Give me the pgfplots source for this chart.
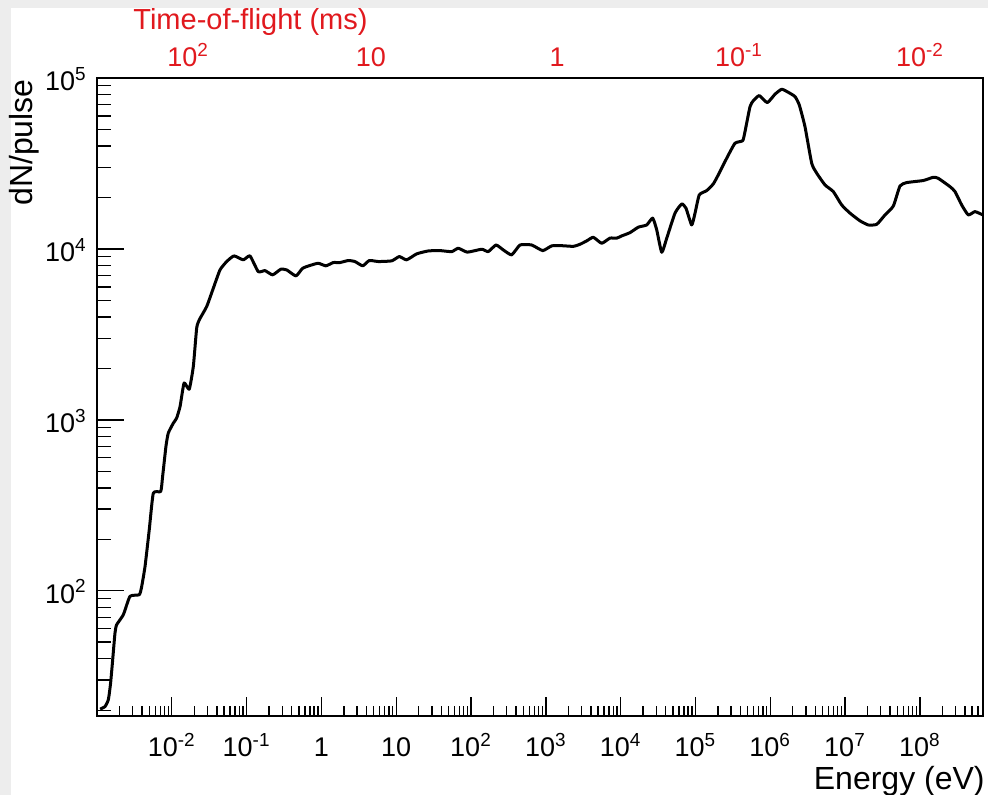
\documentclass[border=0pt]{standalone}
\usepackage{pgfplots}
\pgfplotsset{compat=1.18}
\usepackage{fontspec}
\setmainfont{Liberation Sans}
\definecolor{tofred}{RGB}{225,25,30}
\newcommand{\ex}[1]{10\textsuperscript{#1}}
\newcommand{\tickfont}{\fontsize{13.5}{16}\selectfont}
\newcommand{\titlefont}{\fontsize{16}{19}\selectfont}

% shared geometry of the three stacked axes
\pgfplotsset{
  xmin=1e-3, xmax=7e8, ymin=18.5, ymax=1e5,
  width=443pt, height=319pt, scale only axis,
}

\begin{document}
\begin{tikzpicture}
\path[use as bounding box] (-48.5pt,-39.5pt) rectangle (445.5pt,358pt);
\fill[black!7] (-48.5pt,-39.5pt) rectangle (445.5pt,358pt);
\fill[white] (-43pt,-39.5pt) rectangle (445.5pt,354pt);

% frame, y axis and the spectrum
\begin{loglogaxis}[at={(0,0)}, anchor=south west,
  axis line style={line width=0.9pt},
  xtick=\empty,
  ytick={1e2,1e3,1e4,1e5},
  yticklabels={\ex{2},\ex{3},\ex{4},\ex{5}},
  minor ytick={20,30,40,50,60,70,80,90,
    200,300,400,500,600,700,800,900,
    2000,3000,4000,5000,6000,7000,8000,9000,
    2e4,3e4,4e4,5e4,6e4,7e4,8e4,9e4},
  ytick pos=left, tick align=inside,
  major tick length=13.7pt, minor tick length=7pt,
  tick style={line width=0.7pt, black},
  yticklabel style={font=\tickfont, anchor=base east, inner sep=0pt,
    xshift=-5pt, yshift=-6.35pt},
]
\addplot[black, line width=1.5pt, line join=round, smooth, tension=0.3] coordinates {
(1.10e-3,20.3) (1.28e-3,21.0) (1.42e-3,23.1) (1.52e-3,28.8) (1.62e-3,39.4)
(1.74e-3,56.6) (1.83e-3,63.2) (2.25e-3,72.4) (2.76e-3,92.7) (3.68e-3,94.8)
(3.96e-3,106) (4.39e-3,139) (5.00e-3,228) (5.66e-3,372) (7.11e-3,381)
(7.54e-3,466) (8.35e-3,698) (8.97e-3,836) (1.05e-2,957) (1.16e-2,1023)
(1.29e-2,1197) (1.46e-2,1641) (1.71e-2,1510) (1.94e-2,2051) (2.15e-2,3436)
(2.33e-2,3846) (2.93e-2,4603) (3.59e-2,5888) (4.41e-2,7534) (5.42e-2,8433)
(6.79e-2,9099) (9.03e-2,8630) (0.111,9099) (0.143,7362) (0.176,7464)
(0.223,7047) (0.286,7603) (0.344,7534) (0.457,6950) (0.562,7709)
(0.741,8054) (0.910,8241) (1.15,7962) (1.44,8318) (1.77,8318)
(2.29,8551) (2.81,8433) (3.57,7962) (4.37,8551) (5.77,8433)
(8.71,8511) (11.0,9016) (13.8,8630) (18.8,9354) (26.9,9727)
(38.5,9772) (55.2,9638) (67.6,10090) (89.3,9572) (139,9954)
(170,9638) (216,10540) (270,9863) (350,9226) (452,10540)
(647,10540) (910,9772) (1200,10420) (1633,10440) (2333,10350)
(2864,10640) (3524,11140) (4315,11690) (5585,10790) (7211,11560)
(8872,11560) (10350,11910) (13370,12450) (17260,13400) (22340,13800)
(26850,15140) (30410,12910) (35480,9550) (41400,11560) (53330,16180)
(65610,18320) (74820,17300) (89130,13800) (98850,16180) (112700,20700)
(141600,21930) (173400,23990) (202300,27100) (261800,33880) (338100,41500)
(428500,42950) (460300,48530) (537000,67920) (594300,73620) (714500,78890)
(914100,71780) (1.159e6,80350) (1.425e6,85900) (1.746e6,82410) (2.147e6,77800)
(2.449e6,69500) (2.917e6,51880) (3.589e6,31700) (4.188e6,27730) (5.408e6,23660)
(6.982e6,21630) (9.036e6,18070) (1.167e7,16180) (1.589e7,14590) (2.051e7,13800)
(2.661e7,13930) (3.428e7,15810) (4.426e7,17820) (5.433e7,23330) (6.683e7,24430)
(1.114e8,25120) (1.514e8,26240) (1.766e8,25880) (2.535e8,23120) (2.958e8,21630)
(3.631e8,18070) (4.446e8,15810) (5.470e8,16520) (6.934e8,15810)
};
\end{loglogaxis}

% energy scale along the bottom
\begin{loglogaxis}[at={(0,0)}, anchor=south west,
  hide y axis, axis x line*=bottom,
  axis line style={line width=0.9pt},
  xtick={1e-2,1e-1,1,10,100,1e3,1e4,1e5,1e6,1e7,1e8},
  xticklabels={\ex{-2},\ex{-1},1,10,\ex{2},\ex{3},\ex{4},\ex{5},\ex{6},\ex{7},\ex{8}},
  minor xtick={2e-3,3e-3,4e-3,5e-3,6e-3,7e-3,8e-3,9e-3,
    2e-2,3e-2,4e-2,5e-2,6e-2,7e-2,8e-2,9e-2,
    0.2,0.3,0.4,0.5,0.6,0.7,0.8,0.9,
    2,3,4,5,6,7,8,9,
    20,30,40,50,60,70,80,90,
    200,300,400,500,600,700,800,900,
    2e3,3e3,4e3,5e3,6e3,7e3,8e3,9e3,
    2e4,3e4,4e4,5e4,6e4,7e4,8e4,9e4,
    2e5,3e5,4e5,5e5,6e5,7e5,8e5,9e5,
    2e6,3e6,4e6,5e6,6e6,7e6,8e6,9e6,
    2e7,3e7,4e7,5e7,6e7,7e7,8e7,9e7,
    2e8,3e8,4e8,5e8,6e8},
  tick align=inside,
  major tick length=9.6pt, minor tick length=5pt,
  tick style={line width=0.7pt, black},
  xticklabel style={font=\tickfont, anchor=base, inner sep=0pt, yshift=-20.3pt},
]
\end{loglogaxis}

% time-of-flight scale along the top
\begin{loglogaxis}[at={(0,0)}, anchor=south west,
  hide y axis, axis x line*=top,
  axis line style={line width=0.9pt},
  xtick={1.648e-2,4.60,1413,3.83e5,1.007e8},
  xticklabels={\ex{2},10,1,\ex{-1},\ex{-2}},
  major tick length=0pt, minor tick length=0pt,
  xticklabel style={font=\tickfont, text=tofred, anchor=base, inner sep=0pt, yshift=5.65pt},
]
\end{loglogaxis}

\node[font=\fontsize{14.5}{17}\selectfont, text=tofred, anchor=base west, inner sep=0pt]
  at (18pt,343pt) {Time-of-flight (ms)};
\node[font=\titlefont, anchor=base east, inner sep=0pt] at (444pt,-37pt) {Energy (eV)};
\node[font=\titlefont, rotate=90, anchor=base east, inner sep=0pt] at (-32pt,318.5pt) {dN/pulse};
\end{tikzpicture}
\end{document}
